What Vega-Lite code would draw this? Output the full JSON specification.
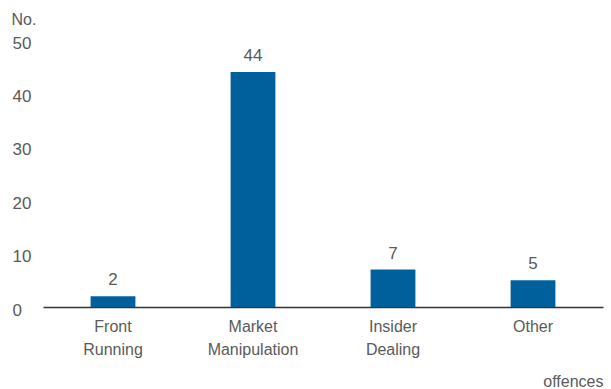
{
  "$schema": "https://vega.github.io/schema/vega-lite/v6.json",
  "width": 560,
  "height": 267,
  "autosize": {"type": "none"},
  "padding": {"left": 43, "top": 40, "right": 8, "bottom": 82},
  "background": "white",
  "config": {
    "view": {"stroke": null},
    "font": "Liberation Sans",
    "text": {"font": "Liberation Sans"}
  },
  "data": {
    "values": [
      {"offence": "Front Running", "count": 2},
      {"offence": "Market Manipulation", "count": 44},
      {"offence": "Insider Dealing", "count": 7},
      {"offence": "Other", "count": 5}
    ]
  },
  "encoding": {
    "x": {
      "field": "offence",
      "type": "nominal",
      "sort": null,
      "scale": {"paddingInner": 0.68, "paddingOuter": 0.34},
      "axis": {
        "title": "offences",
        "titleFont": "Liberation Sans",
        "titleFontSize": 16,
        "titleFontWeight": "normal",
        "titleColor": "#5a5a5a",
        "titleAnchor": "end",
        "titleAlign": "right",
        "titleX": 560,
        "titleY": 74,
        "titleBaseline": "middle",
        "labelAngle": 0,
        "labelExpr": "split(datum.label, ' ')",
        "labelFont": "Liberation Sans",
        "labelFontSize": 16,
        "labelColor": "#5a5a5a",
        "labelLineHeight": 23,
        "labelPadding": 11,
        "ticks": false,
        "tickSize": 0,
        "domainColor": "#333333",
        "domainWidth": 1.5
      }
    },
    "y": {
      "field": "count",
      "type": "quantitative",
      "scale": {"domain": [0, 50], "nice": false},
      "axis": {
        "values": [0, 10, 20, 30, 40, 50],
        "title": "No.",
        "titleAngle": 0,
        "titleAlign": "left",
        "titleBaseline": "middle",
        "titleX": -32,
        "titleY": -21,
        "titleFont": "Liberation Sans",
        "titleFontSize": 16,
        "titleFontWeight": "normal",
        "titleColor": "#5a5a5a",
        "labelFont": "Liberation Sans",
        "labelFontSize": 17,
        "labelColor": "#5a5a5a",
        "labelAlign": "left",
        "labelPadding": 31,
        "labelOffset": 3,
        "ticks": false,
        "tickSize": 0,
        "domain": false,
        "grid": false
      }
    }
  },
  "layer": [
    {"mark": {"type": "bar", "color": "#00609c"}},
    {
      "mark": {"type": "text", "baseline": "bottom", "dy": -7, "fontSize": 17, "color": "#5a5a5a", "font": "Liberation Sans"},
      "encoding": {"text": {"field": "count", "type": "quantitative"}}
    }
  ]
}
